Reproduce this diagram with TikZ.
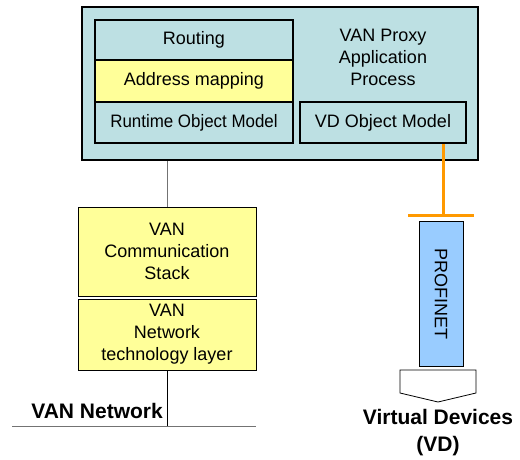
\documentclass[tikz,border=0pt]{standalone}
\usepackage{fontspec}
\setmainfont{Liberation Sans}
\newfontfamily\narrowfont[FakeStretch=0.94]{Liberation Sans}
\definecolor{proxyfill}{RGB}{189,224,227}
\definecolor{layeryellow}{RGB}{255,255,153}
\definecolor{pnblue}{RGB}{153,204,255}
\definecolor{pnorange}{RGB}{255,153,0}
\begin{document}
\begin{tikzpicture}
[x=1pt,y=-1pt,
 box/.style={rectangle,draw=black,line width=1.5pt,inner sep=0pt,
   font=\fontsize{18}{22}\selectfont,align=center},
 cyanbox/.style={box,fill=proxyfill},
 yellowbox/.style={box,fill=layeryellow},
 stackbox/.style={box,fill=layeryellow,line width=1pt,minimum width=178pt},
 plain/.style={draw=none,fill=none,inner sep=0pt,align=center},
 boldlabel/.style={plain,font=\bfseries\fontsize{21}{27}\selectfont}
]
\useasboundingbox (0,0) rectangle (520,459);

% proxy application process
\node[cyanbox,line width=2pt,minimum width=396pt,minimum height=153pt] (proxy) at (280,83.5){};
\node[cyanbox,minimum width=198pt,minimum height=40pt] (routing) at (194,40){Routing};
\node[yellowbox,minimum width=198pt,minimum height=42pt] (addr) at (194,81){Address mapping};
\node[cyanbox,minimum width=198pt,minimum height=41pt,font=\narrowfont\fontsize{18}{22}\selectfont] (runtime) at (194,122.5){Runtime Object Model};
\node[cyanbox,minimum width=166pt,minimum height=41pt] (vdom) at (383,122.5){VD Object Model};
\node[plain,font=\fontsize{18}{22}\selectfont] (title) at (383,57){VAN Proxy\\Application\\Process};

% VAN side
\node[stackbox,minimum height=89pt] (comm) at (167,251.5){VAN\\Communication\\Stack};
\node[stackbox,minimum height=71pt] (netlayer) at (167,334.5){VAN\\Network\\technology layer};
\coordinate (netL) at (12,426);
\coordinate (netR) at (256,426);
\node[boldlabel,anchor=east] (vannet) at (163,411){VAN Network};

\draw[gray!90!black,line width=1pt] (comm.north) -- (comm.north |- proxy.south);
\draw[line width=1pt] (netlayer.south) -- (netlayer.south |- netL);
\draw[gray!90!black,line width=1pt] (netL) -- (netR);

% PROFINET side
\coordinate (bar) at (443,215);
\coordinate (barL) at (408,215);
\coordinate (barR) at (474,215);
\draw[pnorange,line width=3pt] (bar) -- (bar |- vdom.south);
\draw[pnorange,line width=3pt] (barL) -- (barR);
\node[box,fill=pnblue,line width=1pt,minimum width=44pt,minimum height=145pt] (profinet) at (441,293.5){};
\node[plain,rotate=-90,font=\fontsize{18}{22}\selectfont] at (profinet.center){PROFINET};

\draw[line width=0.8pt] (400,370) -- (476,370) -- (476,393) -- (438,402) -- (400,393) -- cycle;
\node[boldlabel] (vd) at (438,433){Virtual Devices\\(VD)};
\end{tikzpicture}
\end{document}
